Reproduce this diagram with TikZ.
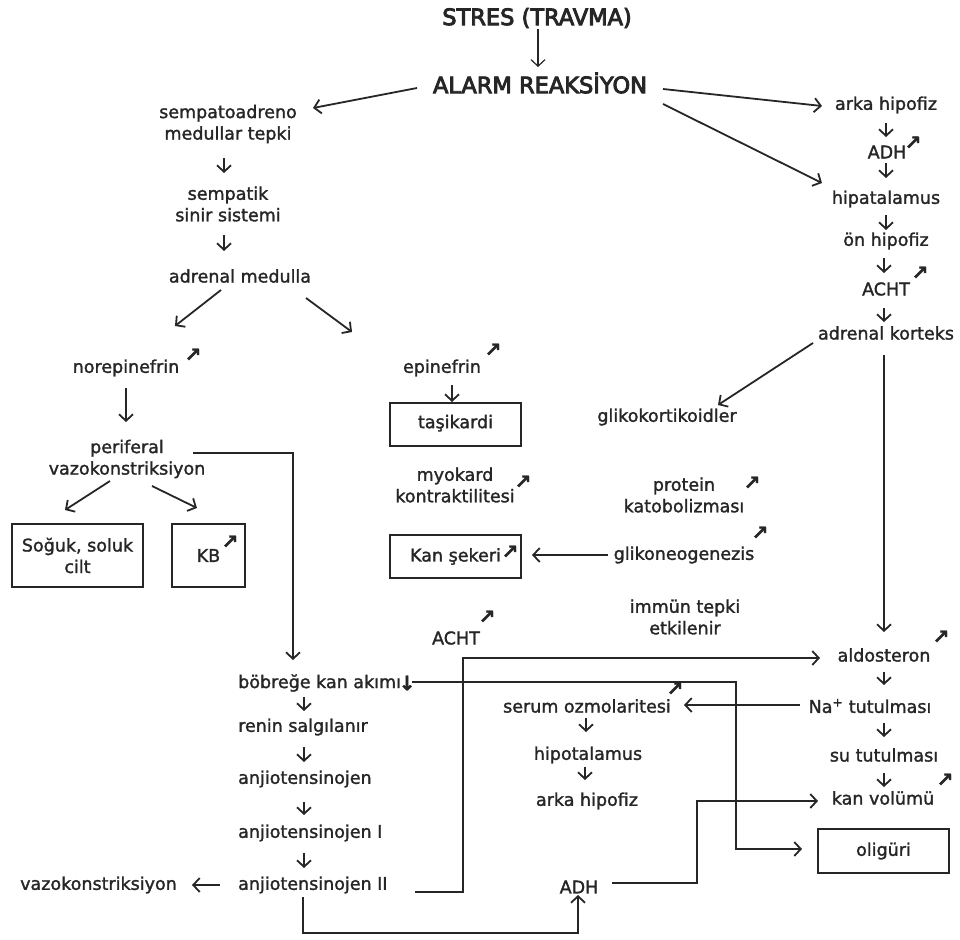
\documentclass[tikz,border=0pt]{standalone}
\usepackage{fontspec}
\setmainfont{DejaVu Sans}[FakeBold=1.6]
\newfontfamily\hdrfont{DejaVu Sans}[FakeBold=4]
\usetikzlibrary{arrows.meta,calc}

\begin{document}
\begin{tikzpicture}[
  x=1pt,y=-1pt,
  font=\fontsize{17.5}{21.5}\selectfont,
  text=black!85,
  >={Straight Barb[length=6.5pt,width=14pt]},
  hdr/.style={font=\hdrfont\fontsize{22.5}{26}\selectfont,inner sep=2pt},
  txt/.style={inner sep=2pt,align=center},
  box/.style={draw=black!85,line width=1.8pt,inner sep=0pt,align=center},
  upm/.style={inner sep=0pt,font=\fontsize{20}{20}\selectfont\bfseries},
  arr/.style={->,draw=black!85,line width=1.8pt},
]
\useasboundingbox (0,0) rectangle (960,939);

% top
\node[hdr] (stres) at (537,18) {STRES (TRAVMA)};
\node[hdr] (alarm) at (540,83) {ALARM REAKSİYON};

% sempatoadreno side
\node[txt] (sam) at (228,124) {sempatoadreno\\medullar tepki};
\node[txt] (sss) at (228,204) {sempatik\\sinir sistemi};
\node[txt] (adm) at (240,276) {adrenal medulla};
\node[txt] (nor) at (126,368) {norepinefrin};
\node[upm] (noru) at (193,355) {↗};
\node[txt] (per) at (127,459) {periferal\\vazokonstriksiyon};
\node[box,minimum width=131pt,minimum height=63pt] (cilt) at (77.5,555.5) {Soğuk, soluk\\cilt};
\node[box,minimum width=73pt,minimum height=63pt] (kb) at (208.5,555.5) {KB};
\node[upm] (kbu) at (230,542) {↗};

\node[txt] (epi) at (442,368) {epinefrin};
\node[upm] (epiu) at (493,350) {↗};
\node[box,minimum width=131pt,minimum height=43pt] (tasi) at (455.5,424.5) {\raisebox{6pt}{taşikardi}};
\node[txt] (myo) at (455,485) {myokard\\kontraktilitesi};
\node[upm] (myou) at (523,482) {↗};
\node[box,minimum width=131pt,minimum height=43pt] (kan) at (455.5,556.5) {Kan şekeri};
\node[upm] (kanu) at (510,552) {↗};
\node[txt] (acht2) at (456,638) {ACHT};
\node[upm] (acht2u) at (487,617) {↗};

% glikokortikoid side
\node[txt] (gk) at (667,417) {glikokortikoidler};
\node[txt] (pk) at (684,495) {protein\\katobolizması};
\node[upm] (pku) at (752,483) {↗};
\node[txt] (gng) at (684,555) {glikoneogenezis};
\node[upm] (gngu) at (760,533) {↗};
\node[txt] (imm) at (685,617) {immün tepki\\etkilenir};

% right column
\node[txt] (ah) at (886,105) {arka hipofiz};
\node[txt] (adh) at (887,152) {ADH};
\node[upm] (adhu) at (913,143) {↗};
\node[txt] (hip) at (886,199) {hipatalamus};
\node[txt] (on) at (886,241) {ön hipofiz};
\node[txt] (acht) at (886,289) {ACHT};
\node[upm] (achtu) at (920,273) {↗};
\node[txt] (ak) at (886,333) {adrenal korteks};
\node[txt] (ald) at (884,655) {aldosteron};
\node[upm] (aldu) at (941,637) {↗};
\node[txt] (na) at (870,706) {Na\textsuperscript{+} tutulması};
\node[txt] (su) at (884,755) {su tutulması};
\node[txt] (kv) at (883,798) {kan volümü};
\node[upm] (kvu) at (945,780) {↗};
\node[box,minimum width=131pt,minimum height=44pt] (oli) at (883.5,851) {oligüri};

% serum side
\node[txt] (som) at (587,706) {serum ozmolaritesi};
\node[upm] (somu) at (675,689) {↗};
\node[txt] (hipo) at (588,755) {hipotalamus};
\node[txt] (ah2) at (587,801) {arka hipofiz};
\node[txt] (adh2) at (579,887) {ADH};

% renin chain
\node[txt,anchor=west] (bka) at (236,683) {böbreğe kan akımı};
\node[upm] (bkadn) at (407,683) {↓};
\node[txt,anchor=west] (ren) at (236,727) {renin salgılanır};
\node[txt,anchor=west] (anj) at (236,779) {anjiotensinojen};
\node[txt,anchor=west] (anj1) at (236,833) {anjiotensinojen I};
\node[txt,anchor=west] (anj2) at (236,885) {anjiotensinojen II};
\node[txt] (vaz) at (98.5,885) {vazokonstriksiyon};

% connectors
\draw[arr,line width=1.2pt] ($(stres)+(1,11)$) -- ($(alarm)+(-2,-16)$);
\draw[arr] ($(alarm)+(-123,5)$) -- ($(sam)+(85,-16)$);
\draw[arr] ($(alarm)+(123,6)$) -- ($(ah)+(-64,1)$);
\draw[arr] ($(alarm)+(123,21)$) -- ($(hip)+(-64,-16)$);
\draw[arr] ($(sam)+(-4,34)$) -- ($(sss)+(-4,-31)$);
\draw[arr] ($(sss)+(-4,31)$) -- ($(adm)+(-16,-25)$);
\draw[arr] ($(adm)+(-19,14)$) -- ($(nor)+(49,-42)$);
\draw[arr] ($(adm)+(66,22)$) -- ($(epi)+(-90,-36)$);
\draw[arr] ($(nor)+(0,20)$) -- ($(per)+(-1,-37)$);
\draw[arr] ($(per)+(66,-6)$) -| ($(bka.west)+(57,-23)$);
\draw[arr] ($(per)+(-17,22)$) -- ($(cilt)+(-12.5,-45.5)$);
\draw[arr] ($(per)+(25,27)$) -- ($(kb)+(-11.5,-47.5)$);
\draw[arr] ($(epi)+(10,17)$) -- ($(tasi)+(-3.5,-22.5)$);
\draw[arr] ($(gng)+(-76,0)$) -- ($(kan)+(76.5,-1.5)$);
\draw[arr] ($(ak)+(-73,10)$) -- ($(gk)+(51,-12)$);
\draw[arr] ($(ak)+(-2,22)$) -- ($(ald)+(0,-23)$);

\draw[arr] ($(ah)+(0,18)$) -- ($(adh)+(-1,-15)$);
\draw[arr] ($(adh)+(-1,11)$) -- ($(hip)+(0,-21)$);
\draw[arr] ($(hip)+(0,16)$) -- ($(on)+(0,-11)$);
\draw[arr] ($(on)+(-2,17)$) -- ($(acht)+(-2,-16)$);
\draw[arr] ($(acht)+(-2,19)$) -- ($(ak)+(-2,-11)$);
\draw[arr] ($(ald)+(0,17)$) -- ($(na)+(14,-21)$);
\draw[arr] ($(na)+(14,17)$) -- ($(su)+(0,-18)$);
\draw[arr] ($(su)+(0,18)$) -- ($(kv)+(1,-11)$);
\draw[arr] ($(na)+(-70,-1)$) -- ($(som)+(97,-1)$);
\draw[arr] ($(som)+(-1,12)$) -- ($(hipo)+(-2,-23)$);
\draw[arr] ($(hipo)+(-3,12)$) -- ($(ah2)+(-2,-21)$);

\draw[arr] ($(bka.west)+(68,14)$) -- ($(ren.west)+(68,-16)$);
\draw[arr] ($(ren.west)+(68,20)$) -- ($(anj.west)+(68,-17)$);
\draw[arr] ($(anj.west)+(68,23)$) -- ($(anj1.west)+(68,-18)$);
\draw[arr] ($(anj1.west)+(68,20)$) -- ($(anj2.west)+(68,-17)$);
\draw[arr] ($(anj2.west)+(-16,0)$) -- ($(vaz)+(93.5,0)$);

\draw[arr] ($(anj2.west)+(179,7)$) -- ++(48,0) |- ($(ald)+(-64,3)$);
\draw[arr] ($(bkadn)+(5,-1)$) -- ++(324,0) |- ($(oli)+(-81.5,-2)$);
\draw[arr] ($(adh2)+(33,-4)$) -- ++(85,0) |- ($(kv)+(-65,3)$);
\draw[arr] ($(anj2.west)+(67,12)$) -- ++(0,36) -| ($(adh2)+(-1,8)$);
\end{tikzpicture}
\end{document}
